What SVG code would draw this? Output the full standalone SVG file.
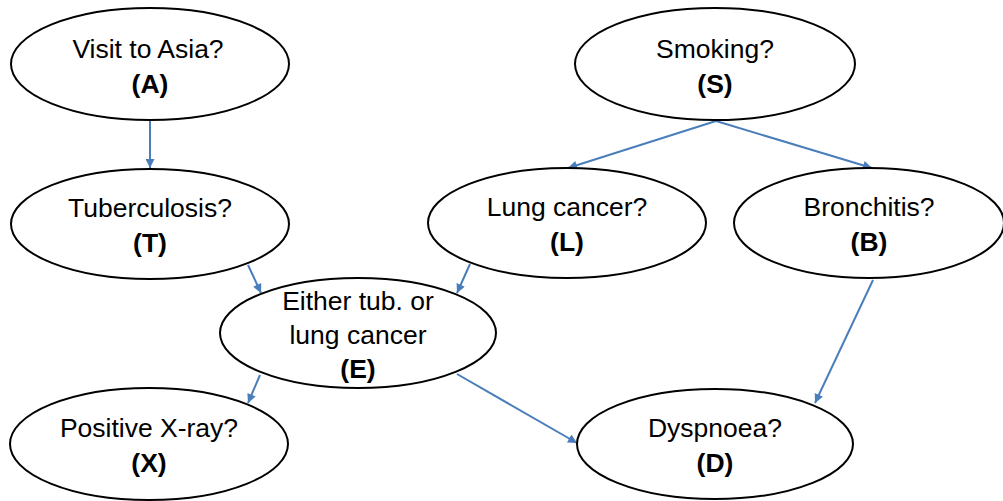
<svg xmlns="http://www.w3.org/2000/svg" width="1003" height="501" viewBox="0 0 1003 501">
  <defs>
    <marker id="arrow" viewBox="0 0 10 10" refX="10" refY="5" markerWidth="11" markerHeight="9" markerUnits="userSpaceOnUse" orient="auto">
      <path d="M0,0 L10,5 L0,10 z" fill="#4a7ebb"/>
    </marker>
  </defs>
  <style>
    .node ellipse { fill: #ffffff; stroke: #000000; stroke-width: 2; }
    .node text { font-family: "Liberation Sans", Arial, sans-serif; font-size: 26.5px; fill: #000000; text-anchor: middle; }
    .node text.id { font-weight: bold; }
    .edges line { stroke: #4a7ebb; stroke-width: 2; marker-end: url(#arrow); }
  </style>
  <rect width="1003" height="501" fill="#ffffff"/>

  <g class="edges">
    <line x1="150" y1="120" x2="150" y2="168"/>
    <line x1="716" y1="121" x2="568" y2="168"/>
    <line x1="716" y1="121" x2="872" y2="168"/>
    <line x1="248" y1="265" x2="261" y2="293"/>
    <line x1="470" y1="264" x2="457" y2="293"/>
    <line x1="260" y1="375" x2="248" y2="403"/>
    <line x1="457" y1="374" x2="577" y2="443"/>
    <line x1="873" y1="280" x2="815" y2="403"/>
  </g>

  <g id="node-A" class="node">
    <ellipse cx="150" cy="64" rx="139" ry="56"/>
    <text x="148" y="58">Visit to Asia?</text>
    <text class="id" x="150" y="93">(A)</text>
  </g>
  <g id="node-S" class="node">
    <ellipse cx="715" cy="64" rx="140" ry="56"/>
    <text x="715" y="58">Smoking?</text>
    <text class="id" x="715" y="93">(S)</text>
  </g>
  <g id="node-T" class="node">
    <ellipse cx="150" cy="224" rx="139" ry="55"/>
    <text x="150" y="217">Tuberculosis?</text>
    <text class="id" x="150" y="252">(T)</text>
  </g>
  <g id="node-L" class="node">
    <ellipse cx="567" cy="223" rx="139" ry="55"/>
    <text x="567" y="216">Lung cancer?</text>
    <text class="id" x="567" y="251">(L)</text>
  </g>
  <g id="node-B" class="node">
    <ellipse cx="869" cy="223" rx="135" ry="55"/>
    <text x="869" y="216">Bronchitis?</text>
    <text class="id" x="869" y="251">(B)</text>
  </g>
  <g id="node-E" class="node">
    <ellipse cx="358" cy="333" rx="138" ry="55"/>
    <text x="358" y="310">Either tub. or</text>
    <text x="358" y="344">lung cancer</text>
    <text class="id" x="358" y="378">(E)</text>
  </g>
  <g id="node-X" class="node">
    <ellipse cx="149" cy="444" rx="139" ry="56"/>
    <text x="149" y="437">Positive X-ray?</text>
    <text class="id" x="149" y="472">(X)</text>
  </g>
  <g id="node-D" class="node">
    <ellipse cx="715" cy="444" rx="138" ry="55"/>
    <text x="715" y="437">Dyspnoea?</text>
    <text class="id" x="715" y="472">(D)</text>
  </g>
</svg>
